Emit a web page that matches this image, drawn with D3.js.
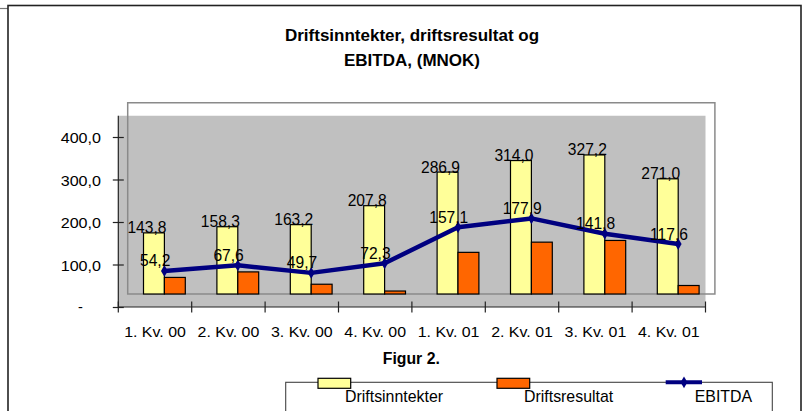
<!DOCTYPE html>
<html><head><meta charset="utf-8">
<script src="https://cdn.jsdelivr.net/npm/d3@7"></script>
<style>html,body{margin:0;padding:0;background:#fff;}svg{display:block;font-family:Arial,"Liberation Sans",sans-serif;}</style>
</head><body><svg id="c" width="806" height="411"></svg>
<script>
const categories = ["1. Kv. 00","2. Kv. 00","3. Kv. 00","4. Kv. 00","1. Kv. 01","2. Kv. 01","3. Kv. 01","4. Kv. 01"];
const driftsinntekter = [143.8,158.3,163.2,207.8,286.9,314.0,327.2,271.0];
const driftsresultat = [39,52,23,7,98,122,126,20];
const ebitda = [54.2,67.6,49.7,72.3,157.1,177.9,141.8,117.6];
const yTicks = [0,100,200,300,400];
const yTickLabels = ["-","100,0","200,0","300,0","400,0"];
const seriesNames = ["Driftsinntekter","Driftsresultat","EBITDA"];
const fmt = v => v.toFixed(1).replace(".", ",");

const svg = d3.select("#c");
const x = d3.scaleBand().domain(categories).range([118.3, 705.5]);
const y = d3.scaleLinear().domain([0,450]).range([307,115.75]);
const DX = 9.4, DY = -13;

// outer frame
svg.append("line").attr("x1",0).attr("x2",8).attr("y1",8.5).attr("y2",8.5).attr("stroke","#777").attr("stroke-width",1.2);
svg.append("rect").attr("x",8).attr("y",5.5).attr("width",793).attr("height",420).attr("fill","none").attr("stroke","#222").attr("stroke-width",1.6);

// title
const title = svg.append("text").attr("text-anchor","middle").attr("font-weight","bold").attr("font-size",17).attr("fill","#000");
title.append("tspan").attr("x",412).attr("y",41).text("Driftsinntekter, driftsresultat og");
title.append("tspan").attr("x",412).attr("y",66).text("EBITDA, (MNOK)");

// back wall (white, shifted)
const r0 = x.range();
svg.append("rect").attr("x",r0[0]+DX).attr("y",y(450)+DY).attr("width",r0[1]-r0[0]).attr("height",y(0)-y(450))
  .attr("fill","#fff").attr("stroke","none");
// gray plot area
svg.append("rect").attr("x",r0[0]).attr("y",y(450)).attr("width",r0[1]-r0[0]).attr("height",y(0)-y(450)).attr("fill","#c0c0c0");
// back wall outline
svg.append("rect").attr("x",r0[0]+DX).attr("y",y(450)+DY).attr("width",r0[1]-r0[0]).attr("height",y(0)-y(450))
  .attr("fill","none").attr("stroke","#8a8a8a").attr("stroke-width",1.5);

// y axis
const yAxis = d3.axisLeft(y).tickValues(yTicks).tickFormat((d,i)=>yTickLabels[i]).tickSizeInner(5.5).tickSizeOuter(0).tickPadding(11.8);
const gy = svg.append("g").attr("transform","translate(118.3,0)").call(yAxis);
gy.select(".domain").attr("d",`M0,${y(450)}V${y(0)}`).attr("stroke","#222").attr("stroke-width",1.2);
gy.selectAll(".tick line").attr("x1",5.5).attr("stroke","#222").attr("stroke-width",1.2);
gy.selectAll(".tick text").attr("font-size",14.5).attr("fill","#000").attr("font-family","Arial, 'Liberation Sans', sans-serif")
  .each(function(d){ const t=d3.select(this); if(d===0){t.attr("x",-38).attr("text-anchor","middle").attr("dy","0.3em");} else {t.attr("textLength",40.3).attr("lengthAdjust","spacingAndGlyphs").attr("dy","0.41em");}});

// x axis
const xAxis = d3.axisBottom(x).tickSize(0).tickPadding(0);
const gx = svg.append("g").attr("transform",`translate(0,${y(0)})`).call(xAxis);
gx.select(".domain").attr("d",`M${r0[0]},0H${r0[1]}`).attr("stroke","#222").attr("stroke-width",1.2);
gx.selectAll(".tick text").attr("font-size",14.5).attr("fill","#000").attr("font-family","Arial, 'Liberation Sans', sans-serif")
  .attr("y",30.3).attr("dy",0).attr("textLength",61.7).attr("lengthAdjust","spacingAndGlyphs");
const edges = categories.map(c=>x(c)).concat([r0[1]]);
gx.selectAll(".edge").data(edges).enter().append("line").attr("class","edge")
  .attr("x1",d=>d).attr("x2",d=>d).attr("y1",-5.5).attr("y2",5.5).attr("stroke","#222").attr("stroke-width",1.2);

// plot content (shifted back plane)
const g = svg.append("g").attr("transform",`translate(${DX},${DY})`);
const bw = 20.9;
const cx = c => x(c) + x.bandwidth()/2;
g.selectAll(".b1").data(categories).enter().append("rect")
  .attr("x",c=>cx(c)-bw).attr("width",bw)
  .attr("y",(c,i)=>y(driftsinntekter[i])).attr("height",(c,i)=>y(0)-y(driftsinntekter[i]))
  .attr("fill","#ffff99").attr("stroke","#000").attr("stroke-width",1.2);
g.selectAll(".b2").data(categories).enter().append("rect")
  .attr("x",c=>cx(c)).attr("width",bw)
  .attr("y",(c,i)=>y(driftsresultat[i])).attr("height",(c,i)=>y(0)-y(driftsresultat[i]))
  .attr("fill","#ff6600").attr("stroke","#000").attr("stroke-width",1.2);

const line = d3.line().x((d,i)=>cx(categories[i])).y(d=>y(d));
g.append("path").datum(ebitda).attr("d",line).attr("fill","none").attr("stroke","#000080").attr("stroke-width",4.5).attr("stroke-linejoin","round");
const diamond = d3.symbol().type(d3.symbolDiamond).size(40);
g.selectAll(".m").data(ebitda).enter().append("path")
  .attr("transform",(d,i)=>`translate(${cx(categories[i])},${y(d)})`).attr("d",diamond).attr("fill","#000080");

// labels
g.selectAll(".l1").data(driftsinntekter).enter().append("text")
  .attr("x",(d,i)=>cx(categories[i])-bw/2-7).attr("y",d=>y(d)+0.5).attr("text-anchor","middle")
  .attr("font-size",15.6).attr("fill","#000").text(fmt);
g.selectAll(".l3").data(ebitda).enter().append("text")
  .attr("x",(d,i)=>cx(categories[i])-9.2).attr("y",d=>y(d)-4.5).attr("text-anchor","middle")
  .attr("font-size",15.6).attr("fill","#000").text(fmt);

// figure caption
svg.append("text").attr("x",411.3).attr("y",364.3).attr("text-anchor","middle").attr("font-weight","bold").attr("font-size",15.8).text("Figur 2.");

// legend
svg.append("rect").attr("x",285.7).attr("y",382.3).attr("width",486.6).attr("height",40).attr("fill","#fff").attr("stroke","#444").attr("stroke-width",1.1);
svg.append("rect").attr("x",318).attr("y",378.3).attr("width",32.7).attr("height",10).attr("fill","#ffff99").attr("stroke","#000").attr("stroke-width",1.2);
svg.append("rect").attr("x",497).attr("y",378.3).attr("width",32.7).attr("height",10).attr("fill","#ff6600").attr("stroke","#000").attr("stroke-width",1.2);
svg.append("line").attr("x1",665.7).attr("x2",702).attr("y1",382.3).attr("y2",382.3).attr("stroke","#000080").attr("stroke-width",4);
svg.append("path").attr("transform","translate(684,382.3)").attr("d",diamond).attr("fill","#000080");
const legendX = [345, 524, 694.7];
svg.selectAll(".lt").data(seriesNames).enter().append("text")
  .attr("x",(d,i)=>legendX[i]).attr("y",401.7).attr("font-size",15.9).attr("fill","#000").text(d=>d);
</script></body></html>
